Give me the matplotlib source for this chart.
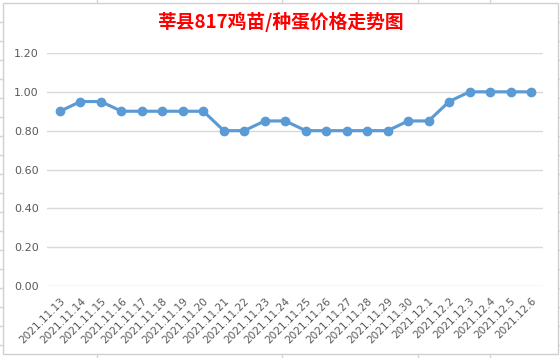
import matplotlib
matplotlib.use("Agg")
import matplotlib.pyplot as plt
from matplotlib.patches import Rectangle
from matplotlib.lines import Line2D

plt.rcParams['font.family'] = ['Noto Sans CJK SC', 'DejaVu Sans']

dates = ["2021.11.13", "2021.11.14", "2021.11.15", "2021.11.16", "2021.11.17", "2021.11.18",
         "2021.11.19", "2021.11.20", "2021.11.21", "2021.11.22", "2021.11.23", "2021.11.24",
         "2021.11.25", "2021.11.26", "2021.11.27", "2021.11.28", "2021.11.29", "2021.11.30",
         "2021.12.1", "2021.12.2", "2021.12.3", "2021.12.4", "2021.12.5", "2021.12.6"]
prices = [0.90, 0.95, 0.95, 0.90, 0.90, 0.90, 0.90, 0.90, 0.80, 0.80, 0.85, 0.85,
          0.80, 0.80, 0.80, 0.80, 0.80, 0.85, 0.85, 0.95, 1.00, 1.00, 1.00, 1.00]
yticks = [0.0, 0.2, 0.4, 0.6, 0.8, 1.0, 1.2]
title = "莘县817鸡苗/种蛋价格走势图"

W, H = 560, 358
fig = plt.figure(figsize=(W / 100, H / 100), dpi=100)

def fx(px):
    return px / W

def fy(py):
    return 1 - py / H

# spreadsheet grid hints outside the chart box
for x in [97, 282, 418, 490]:
    fig.add_artist(Line2D([fx(x), fx(x)], [fy(0), fy(3)], color="#D4D4D4", lw=1))
    fig.add_artist(Line2D([fx(x), fx(x)], [fy(354), fy(358)], color="#D4D4D4", lw=1))
for y in range(22, 358, 19):
    fig.add_artist(Line2D([fx(0), fx(3)], [fy(y), fy(y)], color="#D4D4D4", lw=1))
    fig.add_artist(Line2D([fx(558), fx(560)], [fy(y), fy(y)], color="#D4D4D4", lw=1))

# chart area border
fig.add_artist(Rectangle((fx(3), fy(354)), fx(555), 351 / H, fill=False,
                         edgecolor="#D0D0D0", lw=1))

ax = fig.add_axes([fx(47), fy(286), fx(543 - 47), (286 - 53) / H])
x = list(range(len(dates)))
ax.plot(x, prices, color="#5B9BD5", lw=2.25, marker="o", markersize=6,
        markerfacecolor="#5B9BD5", markeredgecolor="#5B9BD5")

ax.set_xlim(-0.635, len(dates) - 1 + 0.586)
ax.set_ylim(0, 1.2)
ax.set_yticks(yticks)
ax.set_yticklabels([f"{v:.2f}" for v in yticks], color="#595959", fontsize=8,
                   family=['DejaVu Sans'])
ax.set_xticks(x)
ax.set_xticklabels(dates, rotation=45, ha="right", rotation_mode="anchor",
                   color="#595959", fontsize=7.6, family=['DejaVu Sans'])
ax.tick_params(axis="both", length=0)
ax.tick_params(axis="y", pad=6)
ax.tick_params(axis="x", pad=7)
ax.grid(axis="y", color="#D9D9D9", lw=1)
ax.set_axisbelow(True)
for s in ax.spines.values():
    s.set_visible(False)

fig.text(0.5, fy(22), title, ha="center", va="center", color="#FF0000",
         fontsize=13.5, fontweight="bold")

fig.savefig("out.png", dpi=100)
